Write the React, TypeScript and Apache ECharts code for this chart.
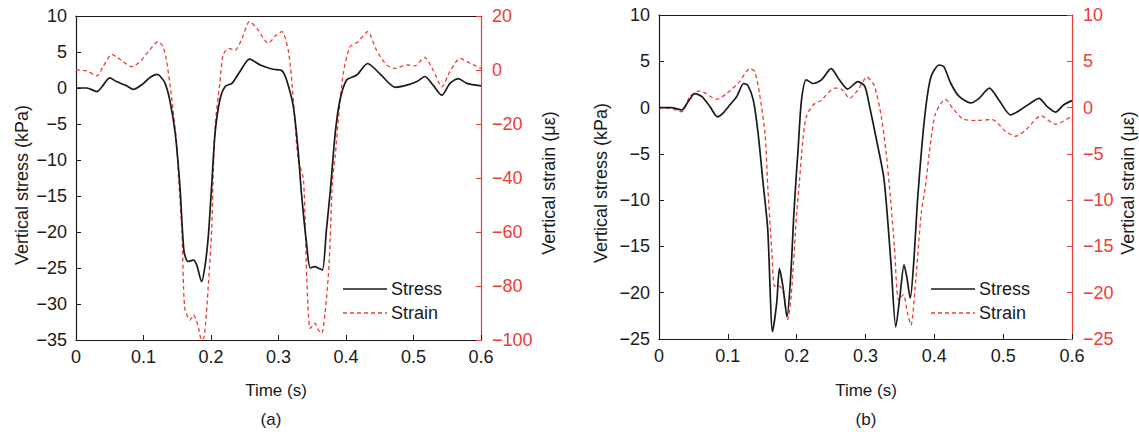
import React, { useEffect, useRef } from "react";
import * as echarts from "echarts";

// ---- Panel (a) ----
const tStressA = [0, 0.016, 0.031, 0.038, 0.05, 0.06, 0.075, 0.085, 0.1, 0.11, 0.12, 0.124, 0.132, 0.139, 0.147, 0.154, 0.16, 0.166, 0.174, 0.179, 0.186, 0.191, 0.196, 0.201, 0.206, 0.213, 0.221, 0.231, 0.243, 0.257, 0.273, 0.292, 0.305, 0.312, 0.322, 0.329, 0.334, 0.342, 0.347, 0.354, 0.359, 0.365, 0.371, 0.377, 0.384, 0.391, 0.401, 0.416, 0.432, 0.45, 0.473, 0.49, 0.505, 0.517, 0.529, 0.542, 0.554, 0.566, 0.579, 0.6];
const stressA = [0, 0, -0.5, 0.1, 1.4, 0.9, 0.3, -0.2, 0.65, 1.5, 1.9, 1.7, 0.65, -1.7, -6.3, -13.7, -22.7, -24.1, -23.9, -24.6, -26.9, -24.8, -20.6, -13.5, -6.3, -1.7, 0.2, 0.65, 2.3, 4.0, 3.2, 2.6, 2.4, 1.1, -2.6, -8.6, -14.6, -22, -25, -24.8, -25, -25.3, -19.7, -14, -6.3, -1.7, 1.1, 1.8, 3.4, 2.0, 0.1, 0.4, 0.9, 1.6, 0.4, -1.0, 0.65, 1.3, 0.65, 0.3];
const tStrainA = [0, 0.016, 0.031, 0.04, 0.053, 0.06, 0.07, 0.082, 0.095, 0.107, 0.122, 0.129, 0.134, 0.142, 0.149, 0.152, 0.157, 0.161, 0.169, 0.174, 0.181, 0.186, 0.19, 0.196, 0.201, 0.203, 0.206, 0.213, 0.218, 0.226, 0.236, 0.246, 0.257, 0.268, 0.285, 0.295, 0.305, 0.315, 0.322, 0.329, 0.337, 0.342, 0.347, 0.354, 0.359, 0.364, 0.369, 0.375, 0.38, 0.384, 0.389, 0.396, 0.406, 0.418, 0.432, 0.445, 0.46, 0.473, 0.49, 0.502, 0.516, 0.529, 0.542, 0.554, 0.569, 0.584, 0.6];
const strainA = [0, -0.3, -2.2, 1.2, 5.8, 4.9, 3.1, 1.2, 3.1, 6.8, 10.5, 8.6, 3.7, -11, -27, -40, -60, -88, -92.6, -90.7, -95, -100, -98.8, -80, -59, -41, -21, -4.9, 5.6, 8, 7.4, 11.7, 17.9, 15.4, 9.9, 12.6, 14.2, 6.5, -11, -33, -40.7, -77.8, -95.7, -93.8, -96.3, -97.5, -90, -71.6, -40.7, -32, -17.3, -1.2, 8.6, 10.5, 14.2, 7.4, 1.9, 0.6, 1.9, 1.5, 4.7, 0, -6.2, -0.6, 4.3, 2.5, 0.6];

// ---- Panel (b) ----
const tStressB = [0, 0.018, 0.033, 0.042, 0.052, 0.062, 0.074, 0.085, 0.093, 0.103, 0.113, 0.123, 0.129, 0.137, 0.144, 0.151, 0.158, 0.165, 0.171, 0.175, 0.18, 0.186, 0.191, 0.196, 0.199, 0.202, 0.207, 0.214, 0.224, 0.236, 0.25, 0.262, 0.274, 0.289, 0.299, 0.306, 0.316, 0.327, 0.337, 0.344, 0.35, 0.356, 0.36, 0.365, 0.37, 0.376, 0.386, 0.395, 0.407, 0.414, 0.424, 0.436, 0.453, 0.465, 0.48, 0.494, 0.511, 0.528, 0.54, 0.552, 0.564, 0.576, 0.588, 0.6];
const stressB = [0, 0, -0.26, 0.6, 1.5, 1.2, 0.1, -1.0, -0.6, 0.3, 1.2, 2.6, 2.4, 0.8, -2.8, -8, -13.2, -24.2, -21.1, -17.4, -19.3, -22.6, -18.6, -11.4, -7.8, -4.6, 0.8, 3.0, 2.6, 3.0, 4.2, 3.0, 2.0, 2.8, 2.3, 0.1, -3.5, -7.8, -16.8, -23.7, -20.4, -17.0, -18.3, -20.6, -16.8, -9.6, -1.0, 3.3, 4.6, 4.4, 2.6, 1.2, 0.5, 1.0, 2.1, 0.8, -0.8, -0.1, 0.5, 1.0, 0.1, -0.5, 0.3, 0.75];
const tStrainB = [0, 0.018, 0.033, 0.045, 0.059, 0.084, 0.098, 0.117, 0.132, 0.139, 0.146, 0.154, 0.158, 0.164, 0.168, 0.175, 0.181, 0.187, 0.192, 0.2, 0.204, 0.209, 0.214, 0.224, 0.236, 0.255, 0.265, 0.277, 0.289, 0.302, 0.313, 0.323, 0.33, 0.336, 0.342, 0.348, 0.355, 0.361, 0.366, 0.373, 0.381, 0.387, 0.395, 0.402, 0.416, 0.427, 0.441, 0.46, 0.484, 0.504, 0.518, 0.533, 0.555, 0.576, 0.6];
const strainB = [0, -0.1, -0.45, 1.2, 1.8, 0.9, 1.5, 2.8, 4.2, 3.9, 1.5, -2.8, -8.5, -15.7, -19.3, -19.3, -20.1, -22.9, -20.4, -11.4, -8, -3.5, -1.0, 0.3, 0.8, 2.1, 2.0, 1.0, 1.9, 3.3, 2.3, -1.0, -4.9, -9.5, -15, -20.8, -20.2, -22.2, -23.5, -18.6, -11.4, -8.5, -3.5, -0.6, 0.9, -0.1, -1.2, -1.4, -1.3, -2.6, -3.1, -2.4, -0.9, -1.8, -0.9];

const seriesNames = ["Stress", "Strain"];
const axisTitles = ["Vertical stress (kPa)", "Vertical strain (με)", "Time (s)"];
const panelLabels = ["(a)", "(b)"];

const FONT = '"Liberation Sans", Arial, Helvetica, sans-serif';
const BLACK = "#1a1a1a";
const RED = "#ec3c36";

const zip = (t: number[], v: number[]) => t.map((x, i) => [x, v[i]]);
const minusFmt = (v: number) => String(v).replace("-", "\u2212");

export default function App() {
  const ref = useRef<HTMLDivElement>(null);
  useEffect(() => {
    if (!ref.current) return;
    const chart = echarts.init(ref.current, null, { renderer: "svg" });
    const grids = [
      { left: 76, top: 16, width: 405, height: 324 },
      { left: 659, top: 15, width: 413, height: 324 },
    ];
    const xAxes: any[] = [];
    const yAxes: any[] = [];
    const yRanges = [
      [[-35, 10, 5], [-100, 20, 20]],
      [[-25, 10, 5], [-25, 10, 5]],
    ];
    grids.forEach((_, gi) => {
      xAxes.push({
        type: "value", gridIndex: gi, min: 0, max: 0.6, interval: 0.1, position: "bottom",
        axisLine: { show: true, onZero: false, lineStyle: { color: BLACK, width: 1.2 } },
        axisTick: { show: true, inside: true, length: 5, lineStyle: { color: BLACK } },
        axisLabel: { color: BLACK, fontSize: 18, fontFamily: FONT, margin: 8 },
        splitLine: { show: false },
      });
      xAxes.push({
        type: "value", gridIndex: gi, min: 0, max: 0.6, position: "top",
        axisLine: { show: true, onZero: false, lineStyle: { color: BLACK, width: 1.2 } },
        axisTick: { show: false }, axisLabel: { show: false }, splitLine: { show: false },
      });
      const [l, r] = yRanges[gi];
      yAxes.push({
        type: "value", gridIndex: gi, min: l[0], max: l[1], interval: l[2], position: "left",
        axisLine: { show: true, onZero: false, lineStyle: { color: BLACK, width: 1.2 } },
        axisTick: { show: true, inside: true, length: 5, lineStyle: { color: BLACK } },
        axisLabel: { color: BLACK, fontSize: 18, fontFamily: FONT, margin: 9, formatter: minusFmt },
        splitLine: { show: false },
      });
      yAxes.push({
        type: "value", gridIndex: gi, min: r[0], max: r[1], interval: r[2], position: "right",
        axisLine: { show: true, onZero: false, lineStyle: { color: RED, width: 1.2 } },
        axisTick: { show: true, inside: true, length: 5, lineStyle: { color: RED } },
        axisLabel: { color: RED, fontSize: 18, fontFamily: FONT, margin: 11, formatter: minusFmt },
        splitLine: { show: false },
      });
    });

    const stressStyle = { color: BLACK, width: 1.7 };
    const strainStyle = { color: RED, width: 1.3, type: [4, 3] as any };
    const series: any[] = [
      { name: seriesNames[0], type: "line", xAxisIndex: 0, yAxisIndex: 0, data: zip(tStressA, stressA), showSymbol: false, symbol: "none", smooth: 0.25, lineStyle: stressStyle, itemStyle: { color: BLACK }, z: 3 },
      { name: seriesNames[1], type: "line", xAxisIndex: 0, yAxisIndex: 1, data: zip(tStrainA, strainA), showSymbol: false, symbol: "none", smooth: 0.25, lineStyle: strainStyle, itemStyle: { color: RED }, z: 2 },
      { name: seriesNames[0], type: "line", xAxisIndex: 2, yAxisIndex: 2, data: zip(tStressB, stressB), showSymbol: false, symbol: "none", smooth: 0.25, lineStyle: stressStyle, itemStyle: { color: BLACK }, z: 3 },
      { name: seriesNames[1], type: "line", xAxisIndex: 2, yAxisIndex: 3, data: zip(tStrainB, strainB), showSymbol: false, symbol: "none", smooth: 0.25, lineStyle: strainStyle, itemStyle: { color: RED }, z: 2 },
    ];

    const vText = (x: number, y: number, text: string) => ({
      type: "text", x, y, rotation: Math.PI / 2,
      style: { text, fill: BLACK, font: `18px ${FONT}`, align: "center", verticalAlign: "middle" },
    });
    const hText = (x: number, y: number, text: string) => ({
      type: "text", x, y,
      style: { text, fill: BLACK, font: `17px ${FONT}`, align: "center", verticalAlign: "middle" },
    });
    const legendItems = (x0: number) => [
      { type: "line", shape: { x1: x0, y1: 289, x2: x0 + 44, y2: 289 }, style: { stroke: BLACK, lineWidth: 1.7 } },
      { type: "line", shape: { x1: x0, y1: 313, x2: x0 + 44, y2: 313 }, style: { stroke: RED, lineWidth: 1.3, lineDash: [4, 3] } },
      { type: "text", x: x0 + 48, y: 289, style: { text: seriesNames[0], fill: BLACK, font: `18px ${FONT}`, align: "left", verticalAlign: "middle" } },
      { type: "text", x: x0 + 48, y: 313, style: { text: seriesNames[1], fill: BLACK, font: `18px ${FONT}`, align: "left", verticalAlign: "middle" } },
    ];

    chart.setOption({
      animation: false,
      backgroundColor: "#ffffff",
      grid: grids,
      xAxis: xAxes,
      yAxis: yAxes,
      series,
      graphic: [
        vText(22, 185, axisTitles[0]),
        vText(549, 183, axisTitles[1]),
        vText(601, 183, axisTitles[0]),
        vText(1128, 183, axisTitles[1]),
        hText(276, 390, axisTitles[2]),
        hText(866, 390, axisTitles[2]),
        hText(271, 419, panelLabels[0]),
        hText(866, 419, panelLabels[1]),
        ...legendItems(343),
        ...legendItems(931),
      ],
    });
    return () => chart.dispose();
  }, []);
  return <div ref={ref} style={{ position: "absolute", left: 0, top: 0, width: 1139, height: 432 }} />;
}
